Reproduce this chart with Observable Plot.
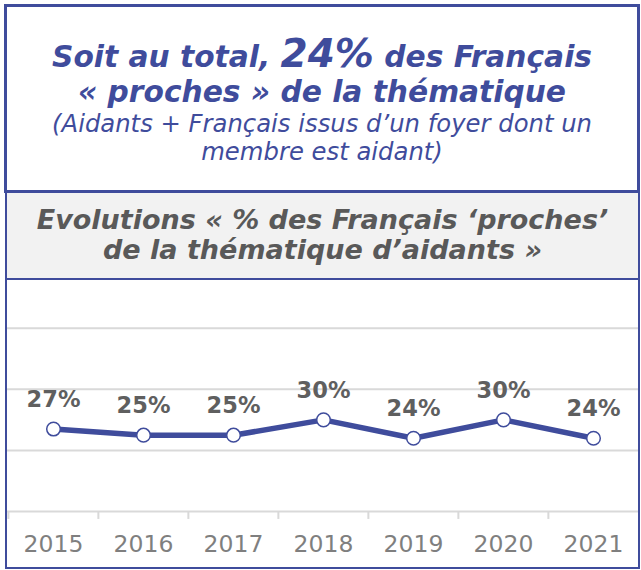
<!DOCTYPE html>
<html>
<head>
<meta charset="utf-8">
<script src="https://cdn.jsdelivr.net/npm/d3@7"></script>
<script src="https://cdn.jsdelivr.net/npm/@observablehq/plot@0.6"></script>
<style>
  html, body { margin: 0; padding: 0; background: #ffffff; }
  body { width: 641px; height: 570px; position: relative; overflow: hidden; font-family: "DejaVu Sans", Verdana, sans-serif; }
  .abs { position: absolute; }
  .topbox { left: 4px; top: 4px; width: 630px; height: 183px; border: 3px solid #3f4c9c; box-sizing: content-box; }
  .band { left: 5px; top: 193px; width: 631px; height: 85px; background: #f2f2f2; border-left: 2px solid #3f4c9c; border-right: 2px solid #3f4c9c; border-bottom: 2px solid #3f4c9c; }
  .frame { left: 5px; top: 280px; width: 631px; height: 287px; border-left: 2px solid #3f4c9c; border-right: 2px solid #3f4c9c; border-bottom: 2px solid #3f4c9c; z-index: 3; background: transparent; }
  .t1 { left: 4px; width: 636px; top: 39px; text-align: center; color: #3f4c9c; font-weight: bold; font-style: italic; font-size: 29.7px; line-height: 35px; white-space: nowrap; }
  .t1 .big { font-size: 39px; line-height: 0; }
  .t2 { left: 4px; width: 636px; top: 110px; text-align: center; color: #3f4c9c; font-style: italic; font-size: 24.3px; line-height: 28px; white-space: nowrap; }
  .t3 { left: 5px; width: 635px; top: 205px; text-align: center; color: #595959; font-weight: bold; font-style: italic; font-size: 27px; line-height: 30px; white-space: nowrap; }
  #chart { left: 7px; top: 280px; }
</style>
</head>
<body>
<div class="abs topbox"></div>
<div class="abs t1">Soit au total, <span class="big">24%</span> des Français<br>« proches » de la thématique</div>
<div class="abs t2">(Aidants + Français issus d’un foyer dont un<br>membre est aidant)</div>
<div class="abs band"></div>
<div class="abs t3">Evolutions « % des Français ‘proches’<br>de la thématique d’aidants »</div>
<div class="abs" id="chart"></div>
<div class="abs frame"></div>
<script>
const years = ["2015", "2016", "2017", "2018", "2019", "2020", "2021"];
const values = [27, 25, 25, 30, 24, 30, 24];
const gridTicks = [0, 20, 40, 60];
const blue = "#3f4c9c";

const data = years.map((year, i) => ({year, value: values[i]}));
const W = 632;
const step = W / years.length;

const chart = Plot.plot({
  width: W,
  height: 287,
  marginLeft: 0,
  marginRight: 0,
  marginTop: 2,
  marginBottom: 56,
  x: {type: "point", domain: years, padding: 0.5, axis: null},
  y: {domain: [0, 75], axis: null},
  style: {fontFamily: "DejaVu Sans, Verdana, sans-serif", color: "#7f7f7f", background: "transparent", overflow: "visible"},
  marks: [
    Plot.ruleY(gridTicks, {y: d => d, stroke: "#d9d9d9", strokeWidth: 2}),
    Plot.ruleX(years, {x: d => d, dx: -step / 2, y1: 0, y2: -2.6, stroke: "#d9d9d9", strokeWidth: 2}),
    Plot.axisX({tickSize: 0, tickPadding: 24, fontSize: 23.5, fill: "#7f7f7f", label: null}),
    Plot.line(data, {x: "year", y: "value", stroke: blue, strokeWidth: 5.5}),
    Plot.dot(data, {x: "year", y: "value", r: 6.8, fill: "white", stroke: blue, strokeWidth: 1.5}),
    Plot.text(data, {x: "year", y: "value", text: d => d.value + "%", dy: -29, fontSize: 22.5, fontWeight: "bold", fill: "#5f5f5f"})
  ]
});
document.getElementById("chart").appendChild(chart);
</script>
</body>
</html>
